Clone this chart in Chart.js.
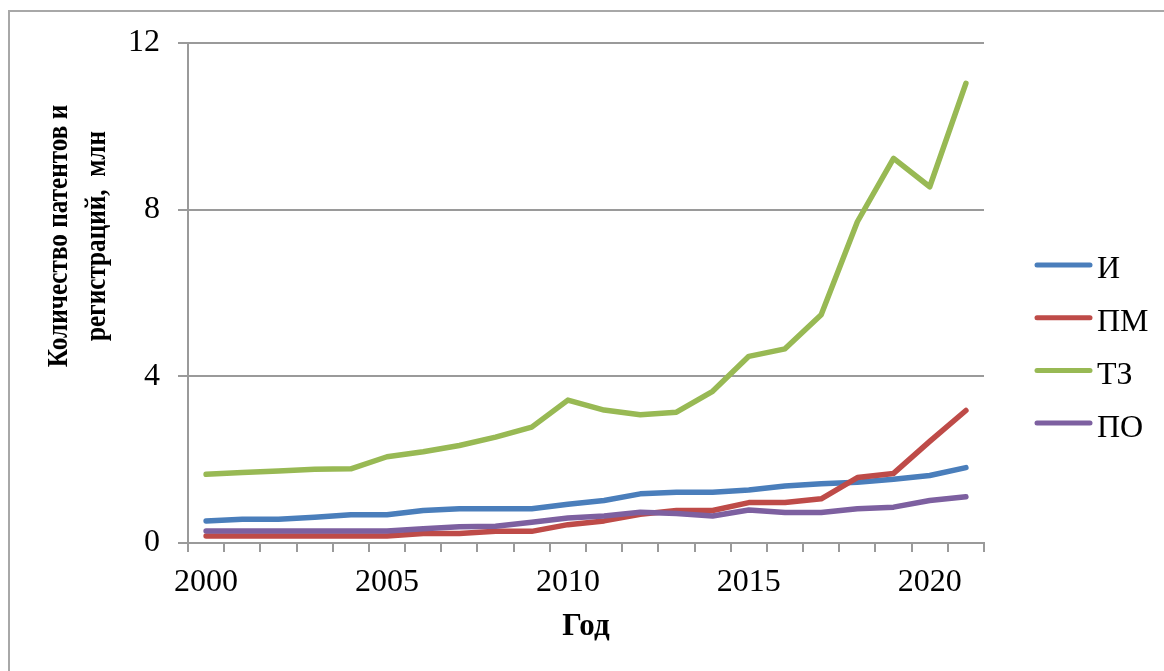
<!DOCTYPE html>
<html>
<head>
<meta charset="utf-8">
<script src="https://cdn.jsdelivr.net/npm/chart.js@4.4.0/dist/chart.umd.min.js"></script>
<style>
    html, body { margin: 0; padding: 0; background: #fff; }
    #wrap { width: 1164px; height: 671px; }
</style>
</head>
<body>
<div id="wrap"><canvas id="myChart" width="1164" height="671"></canvas></div>
<script>
// years on the x axis
const years = ['2000', '2001', '2002', '2003', '2004', '2005', '2006', '2007', '2008', '2009', '2010',
    '2011', '2012', '2013', '2014', '2015', '2016', '2017', '2018', '2019', '2020', '2021'];

// millions
const inventions = [0.53, 0.57, 0.57, 0.62, 0.68, 0.68, 0.78, 0.82, 0.82, 0.82, 0.93,
    1.02, 1.18, 1.22, 1.22, 1.27, 1.37, 1.42, 1.46, 1.53, 1.62, 1.81];
const utilityModels = [0.17, 0.17, 0.17, 0.17, 0.17, 0.17, 0.23, 0.23, 0.28, 0.28, 0.44,
    0.53, 0.69, 0.78, 0.78, 0.97, 0.97, 1.06, 1.57, 1.67, 2.44, 3.18];
const trademarks = [1.65, 1.69, 1.73, 1.77, 1.78, 2.07, 2.19, 2.34, 2.54, 2.78, 3.43,
    3.19, 3.08, 3.14, 3.64, 4.48, 4.66, 5.48, 7.71, 9.23, 8.55, 11.03];
const software = [0.29, 0.29, 0.29, 0.29, 0.29, 0.29, 0.34, 0.39, 0.40, 0.50, 0.60,
    0.65, 0.74, 0.71, 0.65, 0.79, 0.73, 0.73, 0.82, 0.86, 1.02, 1.11];

const seriesNames = ['И', 'ПМ', 'ТЗ', 'ПО'];
const yTitle = ['Количество патентов и', 'регистраций,  млн'];
const xTitle = 'Год';
const yTicks = [0, 4, 8, 12];

const serif = "'Liberation Serif', 'Times New Roman', serif";
const gridColor = '#9a9a9a';

// frame, rotated y title and the legend on the right
const extrasPlugin = {
    id: 'extras',
    beforeDraw(chart) {
        const ctx = chart.ctx;
        ctx.save();
        ctx.strokeStyle = '#a8a8a8';
        ctx.lineWidth = 2;
        ctx.strokeRect(9, 11, 1300, 800);
        ctx.restore();
    },
    afterDraw(chart) {
        const ctx = chart.ctx;
        ctx.save();
        ctx.fillStyle = '#000';
        ctx.font = "bold 30px " + serif;
        ctx.textAlign = 'center';
        ctx.textBaseline = 'middle';
        [59, 97].forEach((x, i) => {
            ctx.save();
            ctx.translate(x, 236);
            ctx.rotate(-Math.PI / 2);
            ctx.scale(0.84, 1); // the original title is set narrow
            ctx.fillText(yTitle[i], 0, 0);
            ctx.restore();
        });

        ctx.font = "32px " + serif;
        ctx.textAlign = 'left';
        ctx.lineCap = 'round';
        chart.data.datasets.forEach((ds, i) => {
            const y = 265 + i * 52.7;
            ctx.strokeStyle = ds.borderColor;
            ctx.lineWidth = 5;
            ctx.beginPath();
            ctx.moveTo(1037, y);
            ctx.lineTo(1090, y);
            ctx.stroke();
            ctx.fillText(ds.label, 1097, y + 5);
        });
        ctx.restore();
    }
};

function lineSet(label, values, color, order) {
    return {
        label: label,
        data: values,
        borderColor: color,
        backgroundColor: color,
        borderWidth: 5.5,
        borderCapStyle: 'round',
        borderJoinStyle: 'round',
        pointRadius: 0,
        tension: 0,
        order: order
    };
}

const data = {
    labels: years,
    datasets: [
        lineSet(seriesNames[0], inventions, '#4a7ebb', 3),
        lineSet(seriesNames[1], utilityModels, '#be4b48', 2),
        lineSet(seriesNames[2], trademarks, '#98b954', 1),
        lineSet(seriesNames[3], software, '#7d60a0', 0)
    ]
};

const config = {
    type: 'line',
    data: data,
    options: {
        responsive: false,
        animation: false,
        layout: { padding: { top: 43, right: 180, left: 0, bottom: 0 } },
        plugins: {
            legend: { display: false },
            tooltip: { enabled: false }
        },
        scales: {
            x: {
                type: 'category',
                offset: true,
                grid: {
                    offset: true,
                    drawOnChartArea: false,
                    drawTicks: true,
                    tickLength: 9,
                    color: gridColor,
                    lineWidth: 2
                },
                border: { color: gridColor, width: 2 },
                ticks: {
                    autoSkip: false,
                    maxRotation: 0,
                    padding: 11,
                    color: '#000',
                    font: { family: serif, size: 32 },
                    callback: function (value, index) {
                        const y = years[index];
                        return Number(y) % 5 === 0 ? y : '';
                    }
                },
                title: {
                    display: true,
                    text: xTitle,
                    color: '#000',
                    font: { family: serif, size: 31, weight: 'bold' },
                    padding: { top: 0, bottom: 25 }
                },
                afterFit: function (scale) { scale.height = 128; }
            },
            y: {
                min: 0,
                max: 12,
                afterBuildTicks: function (scale) {
                    scale.ticks = yTicks.map(v => ({ value: v }));
                },
                grid: {
                    color: gridColor,
                    lineWidth: 2,
                    drawTicks: true,
                    tickLength: 10
                },
                border: { color: gridColor, width: 2 },
                ticks: {
                    padding: 18,
                    color: '#000',
                    font: { family: serif, size: 32 }
                },
                afterFit: function (scale) { scale.width = 188; }
            }
        }
    },
    plugins: [extrasPlugin]
};

const myChart = new Chart(document.getElementById('myChart'), config);
</script>
</body>
</html>
